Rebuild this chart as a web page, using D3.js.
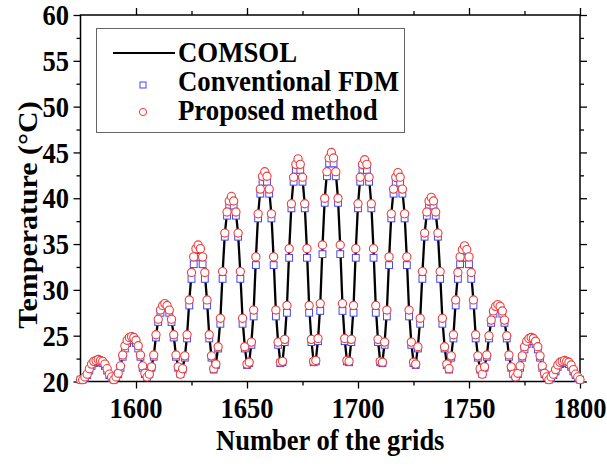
<!DOCTYPE html>
<html><head>
<meta charset="utf-8">
<title>Temperature along the grids</title>
<script src="https://d3js.org/d3.v7.min.js"></script>
<style>
  body { margin: 0; background: #fff; }
  svg text { font-family: "Liberation Serif", "Times New Roman", serif; font-weight: bold; fill: #000; }
</style>
</head>
<body>
<svg id="plot" width="607" height="468"></svg>
<script>
// grid numbers 1575 .. 1800, one value per grid (one period = 15 grids)
const grids = d3.range(1575, 1801);

const comsol = [
  20.2,
  20.2,20.5,20.8,21.4,21.9,22.2,22.3,22.4,22.3,22.2,21.9,21.4,20.8,20.5,20.2,
  20.5,20.9,21.7,22.8,23.8,24.4,24.7,24.8,24.7,24.4,23.8,22.8,21.7,20.9,20.5,
  20.8,21.6,22.8,25.0,26.7,27.7,28.2,28.4,28.2,27.7,26.7,25.0,22.8,21.6,20.8,
  21.4,22.7,25.0,28.8,31.8,33.5,34.4,34.8,34.4,33.5,31.8,28.8,25.0,22.7,21.4,
  21.9,23.8,26.8,31.8,36.1,38.4,39.6,40.1,39.6,38.4,36.1,31.8,26.8,23.8,21.9,
  22.1,24.3,27.7,33.4,38.2,40.9,42.3,42.8,42.3,40.9,38.2,33.4,27.7,24.3,22.1,
  22.2,24.5,28.2,34.3,39.3,42.2,43.6,44.2,43.6,42.2,39.3,34.3,28.2,24.5,22.2,
  22.3,24.6,28.4,34.7,39.9,42.8,44.3,44.9,44.3,42.8,39.9,34.7,28.4,24.6,22.3,
  22.2,24.5,28.2,34.3,39.3,42.2,43.6,44.1,43.6,42.2,39.3,34.3,28.2,24.5,22.2,
  22.1,24.3,27.7,33.4,38.2,40.9,42.2,42.7,42.2,40.9,38.2,33.4,27.7,24.3,22.1,
  21.9,23.8,26.8,31.8,36.1,38.4,39.6,40.0,39.6,38.4,36.1,31.8,26.8,23.8,21.9,
  21.4,22.7,25.0,28.8,31.8,33.5,34.3,34.7,34.3,33.5,31.8,28.8,25.0,22.7,21.4,
  20.8,21.6,22.8,24.9,26.6,27.6,28.1,28.3,28.1,27.6,26.6,24.9,22.8,21.6,20.8,
  20.5,20.9,21.7,22.7,23.7,24.3,24.6,24.7,24.6,24.3,23.7,22.7,21.7,20.9,20.5,
  20.2,20.5,20.8,21.3,21.8,22.1,22.2,22.3,22.2,22.1,21.8,21.3,20.8,20.5,20.2
];

const fdm = [
  20.2,
  20.2,20.4,20.7,21.2,21.7,22.0,22.1,22.2,22.1,22.0,21.7,21.2,20.7,20.4,20.2,
  20.5,20.8,21.5,22.7,23.6,24.2,24.5,24.6,24.5,24.2,23.6,22.7,21.5,20.8,20.5,
  20.8,21.5,22.7,24.8,26.5,27.5,28.0,28.2,28.0,27.5,26.5,24.8,22.7,21.5,20.8,
  21.3,22.6,24.7,28.3,31.2,32.8,33.6,34.1,33.6,32.8,31.2,28.3,24.7,22.6,21.3,
  21.8,23.6,26.3,31.2,35.8,38.1,39.2,39.7,39.2,38.1,35.8,31.2,26.3,23.6,21.8,
  22.0,24.0,27.1,32.7,37.8,40.5,41.8,42.3,41.8,40.5,37.8,32.7,27.1,24.0,22.0,
  22.1,24.3,27.5,33.5,38.9,41.8,43.1,43.7,43.1,41.8,38.9,33.5,27.5,24.3,22.1,
  22.2,24.4,27.7,33.9,39.5,42.4,43.8,44.4,43.8,42.4,39.5,33.9,27.7,24.4,22.2,
  22.1,24.3,27.5,33.5,38.9,41.8,43.1,43.6,43.1,41.8,38.9,33.5,27.5,24.3,22.1,
  22.0,24.0,27.1,32.7,37.8,40.5,41.7,42.2,41.7,40.5,37.8,32.7,27.1,24.0,22.0,
  21.8,23.6,26.3,31.2,35.8,38.1,39.2,39.6,39.2,38.1,35.8,31.2,26.3,23.6,21.8,
  21.3,22.6,24.7,28.3,31.2,32.8,33.5,34.0,33.5,32.8,31.2,28.3,24.7,22.6,21.3,
  20.8,21.5,22.7,24.7,26.4,27.4,27.9,28.1,27.9,27.4,26.4,24.7,22.7,21.5,20.8,
  20.5,20.8,21.5,22.6,23.5,24.1,24.4,24.5,24.4,24.1,23.5,22.6,21.5,20.8,20.5,
  20.2,20.4,20.7,21.1,21.6,21.9,22.0,22.1,22.0,21.9,21.6,21.1,20.7,20.4,20.2
];

const proposed = [
  20.2,
  20.2,20.5,20.8,21.4,21.9,22.2,22.3,22.4,22.3,22.2,21.9,21.4,20.8,20.5,20.2,
  20.5,20.9,21.7,22.9,23.9,24.5,24.8,24.9,24.8,24.5,23.9,22.9,21.7,20.9,20.5,
  20.8,21.6,22.9,25.1,26.8,27.8,28.3,28.5,28.3,27.8,26.8,25.1,22.9,21.6,20.8,
  21.4,22.8,25.1,28.9,31.9,33.6,34.5,34.9,34.5,33.6,31.9,28.9,25.1,22.8,21.4,
  21.9,23.8,26.9,32.0,36.2,38.5,39.7,40.2,39.7,38.5,36.2,32.0,26.9,23.8,21.9,
  22.1,24.3,27.8,33.6,38.3,41.0,42.4,42.9,42.4,41.0,38.3,33.6,27.8,24.3,22.1,
  22.2,24.6,28.3,34.5,39.4,42.3,43.7,44.3,43.7,42.3,39.4,34.5,28.3,24.6,22.2,
  22.3,24.7,28.5,34.9,40.0,42.9,44.4,45.0,44.4,42.9,40.0,34.9,28.5,24.7,22.3,
  22.2,24.6,28.3,34.5,39.4,42.3,43.7,44.2,43.7,42.3,39.4,34.5,28.3,24.6,22.2,
  22.1,24.3,27.8,33.6,38.3,41.0,42.3,42.8,42.3,41.0,38.3,33.6,27.8,24.3,22.1,
  21.9,23.8,26.9,32.0,36.2,38.5,39.7,40.1,39.7,38.5,36.2,32.0,26.9,23.8,21.9,
  21.4,22.8,25.1,28.9,31.9,33.6,34.4,34.8,34.4,33.6,31.9,28.9,25.1,22.8,21.4,
  20.8,21.6,22.9,25.0,26.7,27.7,28.2,28.4,28.2,27.7,26.7,25.0,22.9,21.6,20.8,
  20.5,20.9,21.7,22.8,23.8,24.4,24.7,24.8,24.7,24.4,23.8,22.8,21.7,20.9,20.5,
  20.2,20.5,20.8,21.3,21.8,22.1,22.2,22.3,22.2,22.1,21.8,21.3,20.8,20.5,20.2
];

const xMajor = [1600, 1650, 1700, 1750, 1800];
const xMinor = [1625, 1675, 1725, 1775];
const yMajor = [20, 25, 30, 35, 40, 45, 50, 55, 60];
const yMinor = [22.5, 27.5, 32.5, 37.5, 42.5, 47.5, 52.5, 57.5];
const legendLabels = ["COMSOL", "Conventional FDM", "Proposed method"];
const xTitle = "Number of the grids";
const yTitle = "Temperature (\u00B0C)";

const svg = d3.select("svg#plot");
const pLeft = 80.5, pRight = 580, pTop = 15, pBottom = 381.5;
const sy = 1.13;   // the picture is a bit stretched vertically
const redC = "#f03c3c", blueC = "#4646ee";

const x = d3.scaleLinear().domain([1575, 1800]).range([pLeft, pRight]);
const y = d3.scaleLinear().domain([20, 60]).range([pBottom, pTop]);

// ticks: out on left/bottom, in on top/right
function ticks(gen, vals, size, tr) {
  const g = svg.append("g").attr("transform", tr)
    .call(gen.tickValues(vals).tickSize(size).tickFormat(""));
  g.select(".domain").remove();
  g.selectAll("line").attr("stroke", "#000").attr("stroke-width", 1.3);
}
ticks(d3.axisBottom(x), xMajor, 7, `translate(0,${pBottom})`);
ticks(d3.axisBottom(x), xMinor, 4, `translate(0,${pBottom})`);
ticks(d3.axisBottom(x), xMajor, -7, `translate(0,${pTop})`);
ticks(d3.axisBottom(x), xMinor, -4, `translate(0,${pTop})`);
ticks(d3.axisLeft(y), yMajor, 7, `translate(${pLeft},0)`);
ticks(d3.axisLeft(y), yMinor, 4, `translate(${pLeft},0)`);
ticks(d3.axisLeft(y), yMajor, -7, `translate(${pRight},0)`);
ticks(d3.axisLeft(y), yMinor, -4, `translate(${pRight},0)`);

svg.append("rect")
  .attr("x", pLeft).attr("y", pTop)
  .attr("width", pRight - pLeft).attr("height", pBottom - pTop)
  .attr("fill", "none").attr("stroke", "#000").attr("stroke-width", 1.5);

// tick labels
svg.append("g").selectAll("text").data(xMajor).join("text")
  .attr("transform", d => `translate(${x(d)},408) scale(1,${sy})`)
  .attr("text-anchor", "middle").attr("dy", "0.34em")
  .style("font-size", "26.5px").text(d => d);
svg.append("g").selectAll("text").data(yMajor).join("text")
  .attr("transform", d => `translate(69,${y(d)}) scale(1,${sy})`)
  .attr("text-anchor", "end").attr("dy", "0.34em")
  .style("font-size", "26.5px").text(d => d);

// axis titles
svg.append("text")
  .attr("transform", `translate(${(pLeft + pRight) / 2},450) scale(1,${sy})`)
  .attr("text-anchor", "middle").style("font-size", "26.5px").text(xTitle);
svg.append("text")
  .attr("transform", `translate(37,215) scale(1,${sy}) rotate(-90)`)
  .attr("text-anchor", "middle").style("font-size", "26.5px").text(yTitle);

// data
const chart = svg.append("g");
chart.append("path")
  .datum(grids.map((g, i) => [g, comsol[i]]))
  .attr("d", d3.line().x(d => x(d[0])).y(d => y(d[1])))
  .attr("fill", "none").attr("stroke", "#000").attr("stroke-width", 2.3)
  .attr("stroke-linejoin", "round");

chart.append("g").selectAll("rect").data(grids.map((g, i) => [g, fdm[i]])).join("rect")
  .attr("x", d => x(d[0]) - 3.4).attr("y", d => y(d[1]) - 3.4)
  .attr("width", 6.8).attr("height", 6.8)
  .attr("fill", "#fff").attr("stroke", blueC).attr("stroke-width", 1);

chart.append("g").selectAll("circle").data(grids.map((g, i) => [g, proposed[i]])).join("circle")
  .attr("cx", d => x(d[0])).attr("cy", d => y(d[1])).attr("r", 4.1)
  .attr("fill", "#fff").attr("stroke", redC).attr("stroke-width", 1.1);

// legend
const lg = svg.append("g");
lg.append("rect").attr("x", 96.5).attr("y", 28.5).attr("width", 308).attr("height", 104)
  .attr("fill", "#fff").attr("stroke", "#666").attr("stroke-width", 1);
lg.append("line").attr("x1", 113).attr("x2", 175).attr("y1", 53).attr("y2", 53)
  .attr("stroke", "#000").attr("stroke-width", 2);
lg.append("rect").attr("x", 140).attr("y", 82).attr("width", 6).attr("height", 6)
  .attr("fill", "#fff").attr("stroke", blueC).attr("stroke-width", 1);
lg.append("circle").attr("cx", 143).attr("cy", 112).attr("r", 3.6)
  .attr("fill", "#fff").attr("stroke", redC).attr("stroke-width", 1);
lg.selectAll("text.lab").data(legendLabels).join("text").attr("class", "lab")
  .attr("transform", (d, i) => `translate(178,${62 + i * 29}) scale(1,1.1)`)
  .style("font-size", "26.8px").text(d => d);
</script>
</body>
</html>
